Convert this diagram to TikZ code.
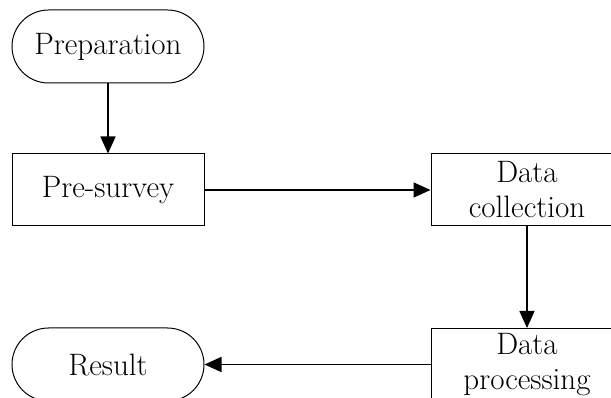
\documentclass[tikz,border=0pt]{standalone}
\usepackage{tikz}
\usetikzlibrary{arrows.meta}

\begin{document}
\begin{tikzpicture}[x=1pt,y=1pt,
	every node/.style={font=\fontsize{31}{35}\selectfont},
	stadium/.style={draw,line width=1pt,rectangle,rounded corners=36.5pt,minimum width=192pt,minimum height=73pt,inner sep=2pt},
	stepbox/.style={draw,line width=1pt,rectangle,minimum width=192pt,minimum height=72pt,inner sep=2pt,align=center},
	flow/.style={line width=1.6pt,-{Triangle[length=17pt,width=15pt]}}]
			\useasboundingbox (0,-398) rectangle (611,0);
			\node[stadium] (prep) at (108,-46.5) {Preparation};
			\node[stepbox] (pre) at (108,-190) {Pre-survey};
			\node[stepbox] (coll) at (527,-190) {Data\\collection};
			\node[stepbox,anchor=north] (proc) at (527,-328) {Data\\processing};
			\node[stadium] (res) at (108,-364.5) {Result};
			\draw[flow] (prep) -- (pre);
			\draw[flow] (pre) -- (coll);
			\draw[flow] (coll) -- (proc);
			\draw[flow] (proc) -- (res);
\end{tikzpicture}
\end{document}
